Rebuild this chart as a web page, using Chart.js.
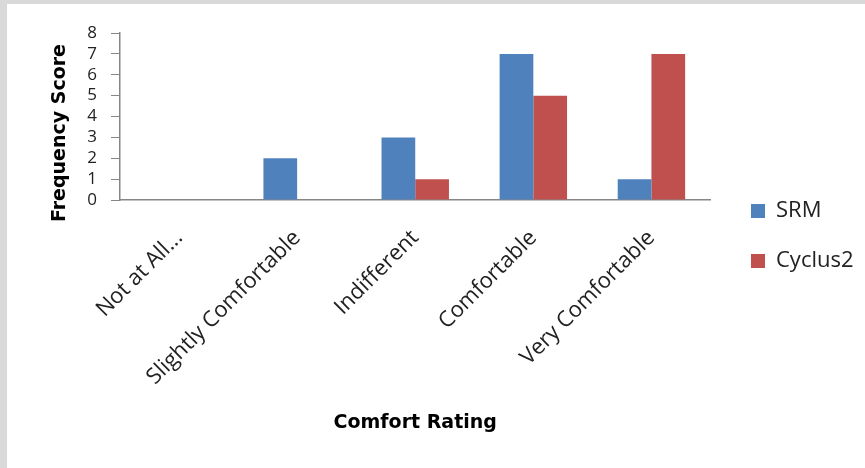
<!DOCTYPE html>
<html>
<head>
<meta charset="utf-8">
<script src="https://cdn.jsdelivr.net/npm/chart.js@4/dist/chart.umd.min.js"></script>
<style>
  html, body { margin: 0; padding: 0; }
  body { width: 865px; height: 468px; background: #d9d9d9; position: relative; overflow: hidden; }
  #frame { position: absolute; left: 7px; top: 4px; width: 858px; height: 464px; background: #ffffff; }
  canvas { display: block; }
</style>
</head>
<body>
<div id="frame"><canvas id="chart" width="858" height="464"></canvas></div>
<script>
// Comfort ratings given to each saddle
const categories = ['Not at All...', 'Slightly Comfortable', 'Indifferent', 'Comfortable', 'Very Comfortable'];
const srmScores = [0, 2, 3, 7, 1];
const cyclusScores = [0, 0, 1, 5, 7];
const yTicks = [0, 1, 2, 3, 4, 5, 6, 7, 8];

const AXIS_GREY = '#868686';

// Place the legend column to the right of the plot
const legendPlacer = {
  id: 'legendPlacer',
  afterLayout(chart) {
    const lg = chart.legend;
    if (!lg) return;
    const w = lg.right - lg.left;
    lg.left = 716;
    lg.right = 716 + w;
    lg.top = 0;
    lg.bottom = 464;
  }
};

new Chart(document.getElementById('chart'), {
  type: 'bar',
  data: {
    labels: categories,
    datasets: [
      { label: 'SRM', data: srmScores, backgroundColor: '#4F81BD', borderWidth: 0 },
      { label: 'Cyclus2', data: cyclusScores, backgroundColor: '#C0504D', borderWidth: 0 }
    ]
  },
  options: {
    responsive: false,
    animation: false,
    layout: { padding: { left: 37.6, top: 29, right: 14, bottom: 29.6 } },
    datasets: { bar: { categoryPercentage: 0.571, barPercentage: 1.0 } },
    plugins: {
      legend: {
        position: 'right',
        labels: {
          boxWidth: 14, boxHeight: 14, padding: 28,
          color: '#222', font: { family: 'Open Sans', size: 22 }
        }
      },
      tooltip: { enabled: false }
    },
    scales: {
      x: {
        grid: { display: true, drawOnChartArea: false, drawTicks: false },
        border: { display: true, color: AXIS_GREY, width: 1.5 },
        ticks: {
          autoSkip: false, minRotation: 45, maxRotation: 45, padding: 25,
          color: '#222', font: { family: 'Open Sans', size: 22 }
        },
        title: {
          display: true, text: 'Comfort Rating', color: '#000',
          font: { family: 'DejaVu Sans', size: 19, weight: 'bold' },
          padding: { top: 4, bottom: 4 }
        },
        afterFit(scale) { scale.height = 238.4; }
      },
      y: {
        min: 0, max: 8,
        afterBuildTicks(scale) { scale.ticks = yTicks.map(v => ({ value: v })); },
        grid: { display: true, drawOnChartArea: false, drawTicks: true, tickLength: 9, color: AXIS_GREY },
        border: { display: true, color: AXIS_GREY, width: 1.5 },
        ticks: {
          autoSkip: false, padding: 14,
          color: '#222', font: { family: 'Open Sans', size: 17 }
        },
        title: {
          display: true, text: 'Frequency Score     ', color: '#000',
          font: { family: 'DejaVu Sans', size: 19, weight: 'bold' },
          padding: { top: 4, bottom: 4 }
        },
        afterFit(scale) { scale.width = 75.4; }
      }
    }
  },
  plugins: [legendPlacer]
});
</script>
</body>
</html>
